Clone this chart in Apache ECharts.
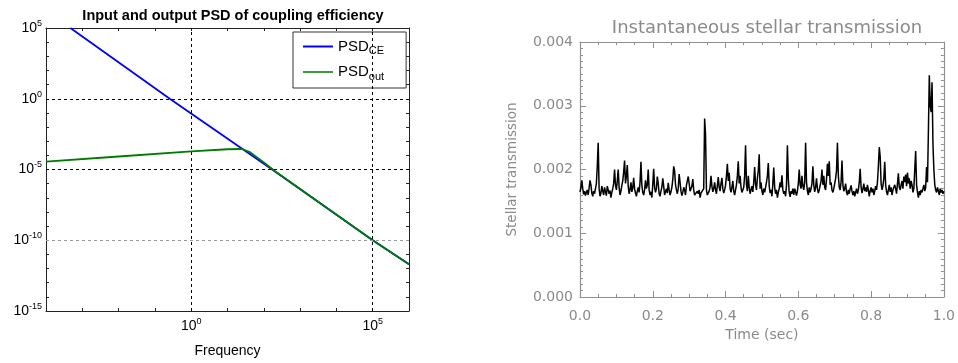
<!DOCTYPE html>
<html>
<head>
<meta charset="utf-8">
<script src="https://cdn.jsdelivr.net/npm/echarts@6/dist/echarts.min.js"></script>
<style>
  html, body { margin: 0; padding: 0; background: #fff; }
  #chart { width: 958px; height: 363px; }
</style>
</head>
<body>
<div id="chart"></div>
<script>
// left panel: PSD curves, straight in log-log so only the knees are listed
const psdCeFreq = [4.7e-4, 0.257, 170, 1e5, 1e6];
const psdCe = [1e5, 1, 1e-5, 1e-10, 2e-12];
const psdOutFreq = [1e-4, 1e-2, 1, 10, 25, 40, 100, 200, 1e5, 1e6];
const psdOut = [3.6e-5, 8.3e-5, 1.9e-4, 2.7e-4, 2.8e-4, 1.8e-4, 3.2e-5, 7.9e-6, 1e-10, 2e-12];

// right panel: one sample every 2.5 ms, transmission in units of 1e-5
const sampleStep = 0.0025;
const transmission = [
  165,172,183,170,161,166,159,164,168,160,171,183,176,163,158,166,162,170,178,205,
  242,170,158,163,174,166,160,172,165,159,174,168,162,167,156,164,170,178,200,176,
  168,182,200,172,160,166,175,182,196,214,178,190,207,174,162,168,180,165,171,187,
  170,163,158,166,172,164,180,212,175,164,160,168,183,170,176,200,168,160,165,156,
  176,201,172,164,170,189,178,162,158,166,172,186,174,160,165,170,163,179,168,160,
  165,172,184,205,198,176,168,162,170,193,180,166,159,164,172,168,160,175,182,189,
  178,166,170,174,185,168,160,163,157,166,162,168,156,163,160,166,170,280,255,168,
  160,158,166,172,190,174,165,170,180,168,162,175,188,172,166,178,187,170,163,168,
  175,190,209,182,195,170,164,172,182,166,160,168,176,190,213,178,190,172,164,168,
  172,190,238,176,166,190,172,162,168,174,165,180,204,176,168,186,198,224,170,180,
  166,160,170,164,172,180,190,210,174,163,168,158,178,203,172,162,168,156,164,170,
  180,172,191,168,162,166,158,175,238,185,164,157,166,162,170,160,170,165,159,166,
  178,200,176,170,190,174,168,180,242,180,166,160,172,164,170,178,205,176,165,172,
  186,170,163,168,175,182,200,176,190,172,168,185,209,190,213,176,180,168,164,170,
  178,186,198,242,190,172,168,180,214,176,166,170,178,164,160,168,162,170,175,166,
  160,166,158,164,170,162,168,180,201,172,163,170,178,166,172,165,176,168,158,166,
  172,164,170,160,166,174,168,180,205,235,220,178,168,174,186,212,176,165,160,168,
  176,165,172,160,168,166,176,170,162,178,194,172,168,176,182,170,189,180,192,174,
  195,178,186,170,182,176,164,170,200,229,176,164,156,166,160,168,164,170,176,166,
  172,204,180,260,348,300,290,337,240,200,176,168,164,172,166,160,170,164,168,162,
  166
];

const leftFont = "'Liberation Sans', Arial, sans-serif";
const rightFont = "'DejaVu Sans', sans-serif";
const grayIdl = '#8a8a8a';

const powRich = {
  b: { fontSize: 14, fontFamily: leftFont, color: '#000' },
  e: { fontSize: 9, fontFamily: leftFont, color: '#000', padding: [0, 0, 9, 0] }
};
const powLabel = (v) => (v % 5 === 0 ? `{b|10}{e|${v === 0 ? 0 : v}}` : '');

const logPairs = (xs, ys) => xs.map((x, i) => [Math.log10(x), Math.log10(ys[i])]);

const blackLine = { onZero: false, lineStyle: { color: '#222', width: 1 } };
const leftTick = { inside: true, length: 3, lineStyle: { color: '#222' } };
const idlLine = { onZero: false, lineStyle: { color: '#909090', width: 1.2 } };
const idlTick = { inside: true, length: 6, lineStyle: { color: '#909090' } };

const chart = echarts.init(document.getElementById('chart'), null, { renderer: 'canvas' });

chart.setOption({
  animation: false,
  backgroundColor: '#fff',
  title: [
    {
      text: 'Input and output PSD of coupling efficiency',
      left: 228, top: 3, textAlign: 'center',
      textStyle: { fontFamily: leftFont, fontSize: 14.5, fontWeight: 'bold', color: '#000' }
    },
    {
      text: 'Instantaneous stellar transmission',
      left: 762, top: 14, textAlign: 'center',
      textStyle: { fontFamily: rightFont, fontSize: 18, fontWeight: 'normal', color: grayIdl }
    }
  ],
  legend: {
    data: ['CE', 'out'],
    left: 293, top: 32,
    orient: 'vertical',
    icon: 'rect', itemWidth: 30, itemHeight: 2, itemGap: 8,
    padding: [7, 22, 6, 10],
    borderColor: '#333', borderWidth: 1, backgroundColor: '#fff',
    selectedMode: false,
    formatter: (name) => `{m|PSD}{s|${name}}`,
    textStyle: {
      rich: {
        m: { fontSize: 15, fontFamily: leftFont, color: '#000' },
        s: { fontSize: 11, fontFamily: leftFont, color: '#000', padding: [9, 0, 0, 0] }
      }
    }
  },
  grid: [
    { left: 46, top: 28, width: 363, height: 286 },
    { left: 580, top: 42, width: 367, height: 255 }
  ],
  xAxis: [
    {
      gridIndex: 0, type: 'value', min: -4, max: 6, interval: 1,
      axisLine: blackLine, axisTick: leftTick, splitLine: { show: false },
      axisLabel: { formatter: powLabel, rich: powRich, margin: 6 },
      name: 'Frequency', nameLocation: 'middle', nameGap: 33,
      nameTextStyle: { fontFamily: leftFont, fontSize: 14, color: '#000' }
    },
    {
      gridIndex: 0, type: 'value', position: 'top', min: -4, max: 6, interval: 1,
      axisLine: blackLine, axisTick: leftTick, axisLabel: { show: false }, splitLine: { show: false }
    },
    {
      gridIndex: 1, type: 'value', min: 0, max: 1, interval: 0.2,
      axisLine: idlLine, axisTick: idlTick,
      minorTick: { show: true, splitNumber: 4, length: 3, lineStyle: { color: '#909090' } },
      splitLine: { show: false },
      axisLabel: { formatter: (v) => v.toFixed(1), margin: 12, color: grayIdl, fontFamily: rightFont, fontSize: 14 },
      name: 'Time (sec)', nameLocation: 'middle', nameGap: 30,
      nameTextStyle: { fontFamily: rightFont, fontSize: 14, color: grayIdl }
    },
    {
      gridIndex: 1, type: 'value', position: 'top', min: 0, max: 1, interval: 0.2,
      axisLine: idlLine, axisTick: idlTick,
      minorTick: { show: true, splitNumber: 4, length: 3, lineStyle: { color: '#909090' } },
      axisLabel: { show: false }, splitLine: { show: false }
    }
  ],
  yAxis: [
    {
      gridIndex: 0, type: 'value', min: -15, max: 5, interval: 1,
      axisLine: blackLine, axisTick: leftTick, splitLine: { show: false },
      axisLabel: { formatter: powLabel, rich: powRich, margin: 4 }
    },
    {
      gridIndex: 0, type: 'value', position: 'right', min: -15, max: 5, interval: 1,
      axisLine: blackLine, axisTick: leftTick, axisLabel: { show: false }, splitLine: { show: false }
    },
    {
      gridIndex: 1, type: 'value', min: 0, max: 0.004, interval: 0.001,
      axisLine: idlLine, axisTick: idlTick,
      minorTick: { show: true, splitNumber: 10, length: 3, lineStyle: { color: '#909090' } },
      splitLine: { show: false },
      axisLabel: { formatter: (v) => v.toFixed(3), margin: 7, color: grayIdl, fontFamily: rightFont, fontSize: 14 },
      name: 'Stellar transmission', nameLocation: 'middle', nameGap: 61,
      nameTextStyle: { fontFamily: rightFont, fontSize: 13.5, color: grayIdl }
    },
    {
      gridIndex: 1, type: 'value', position: 'right', min: 0, max: 0.004, interval: 0.001,
      axisLine: idlLine, axisTick: idlTick,
      minorTick: { show: true, splitNumber: 10, length: 3, lineStyle: { color: '#909090' } },
      axisLabel: { show: false }, splitLine: { show: false }
    }
  ],
  series: [
    {
      name: 'CE', type: 'line', xAxisIndex: 0, yAxisIndex: 0,
      data: logPairs(psdCeFreq, psdCe),
      showSymbol: false, symbol: 'none', clip: true, z: 2,
      lineStyle: { color: '#0000ff', width: 1.8 }, itemStyle: { color: '#0000ff' },
      markLine: {
        symbol: 'none', silent: true, label: { show: false },
        lineStyle: { color: '#000', type: [3, 3], width: 1 },
        data: [
          { xAxis: 0 }, { xAxis: 5 },
          { yAxis: 0 }, { yAxis: -5 },
          { yAxis: -10, lineStyle: { color: '#9a9a9a', type: [3, 3], width: 1 } }
        ]
      }
    },
    {
      name: 'out', type: 'line', xAxisIndex: 0, yAxisIndex: 0,
      data: logPairs(psdOutFreq, psdOut),
      showSymbol: false, symbol: 'none', clip: true, z: 3,
      lineStyle: { color: '#007a00', width: 1.8 }, itemStyle: { color: '#3f9a3f' }
    },
    {
      name: 'transmission', type: 'line', xAxisIndex: 2, yAxisIndex: 2,
      data: transmission.map((v, i) => [i * sampleStep, v * 1e-5]),
      showSymbol: false, symbol: 'none', z: 2,
      lineStyle: { color: '#000', width: 1.5 }
    }
  ]
});
</script>
</body>
</html>
